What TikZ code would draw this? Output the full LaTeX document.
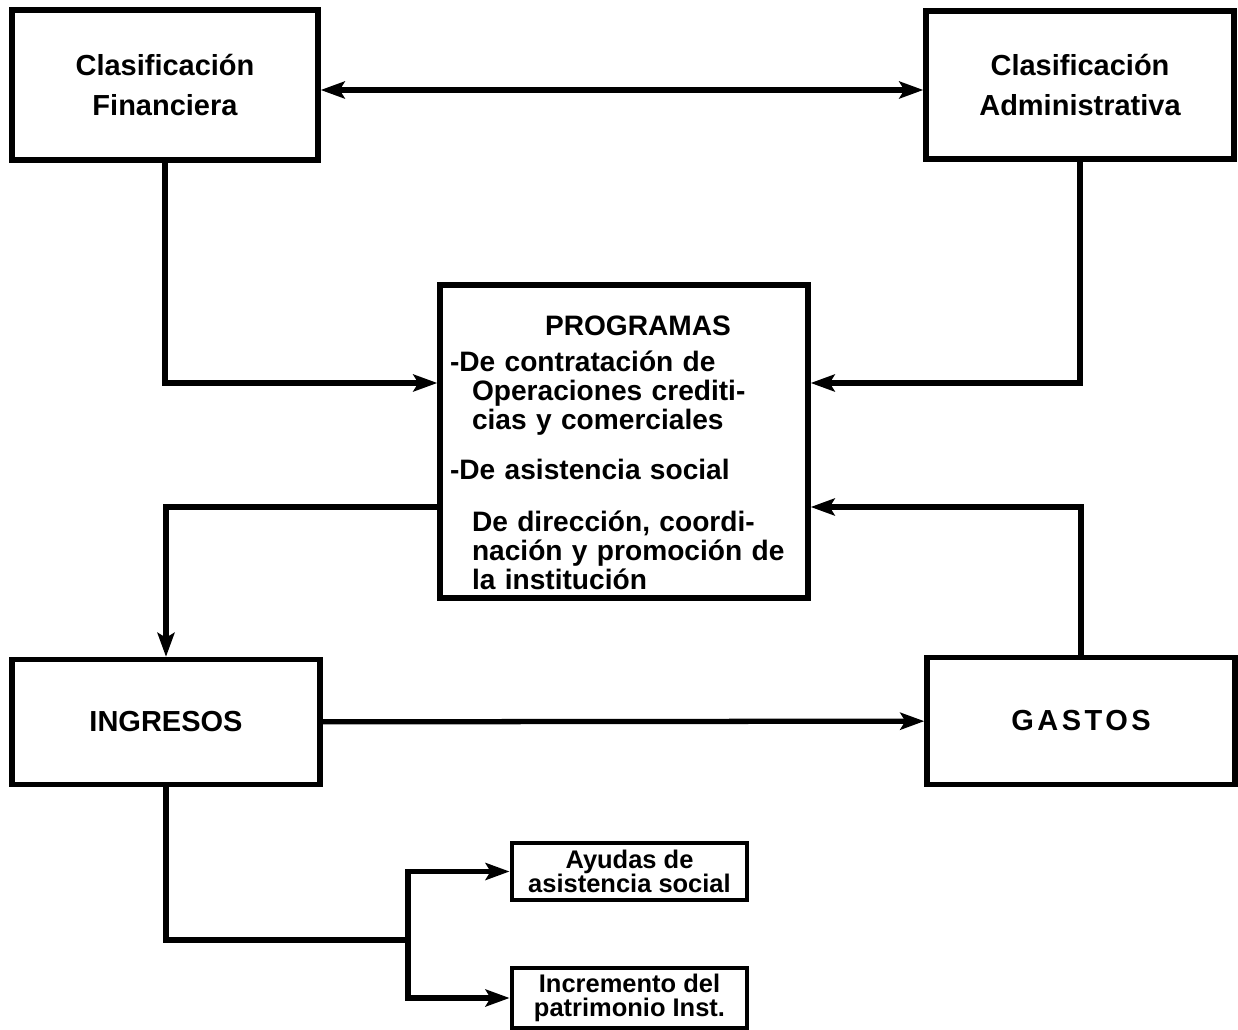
\documentclass[tikz,border=0pt]{standalone}
\usepackage{fontspec}
\setmainfont{Liberation Sans}
\usetikzlibrary{arrows.meta}
\newcommand\mytight{\setlength{\lineskiplimit}{-20pt}}
\begin{document}
\begin{tikzpicture}[x=0.02cm,y=-0.02cm,
  >={Stealth[length=4.8mm,width=3.4mm,inset=1mm]},
  bx/.style={draw, line width=3.1pt, inner sep=0pt, align=center,
    font=\bfseries\fontsize{16.5}{23}\selectfont},
  progbox/.style={draw, line width=3.1pt, inner xsep=0.2cm, inner ysep=0pt,
    align=left, text width=6.96cm, minimum height=6.26cm,
    font=\bfseries\fontsize{16}{16.5}\selectfont\mytight},
  sbx/.style={draw, line width=2.8pt, inner sep=0pt, align=center,
    minimum width=4.7cm,
    font=\bfseries\fontsize{14.5}{13.5}\selectfont\mytight},
  conn/.style={line width=3pt, line join=miter}]
\useasboundingbox (0,0) rectangle (1238,1030);

\node[bx, minimum width=6.12cm, minimum height=3.0cm] (cf) at (165,85) {Clasificación\\Financiera};
\node[bx, minimum width=6.16cm, minimum height=2.96cm] (ca) at (1080,85) {Clasificación\\Administrativa};
\node[progbox] (prog) at (624,441.5) {\rule{0pt}{0.83cm}\hspace*{1.9cm}PROGRAMAS\\[4pt]
-De contratación de\\
\hspace*{0.44cm}Operaciones crediti-\\
\hspace*{0.44cm}cias y comerciales\\[12pt]
-De asistencia social\\[13pt]
\hspace*{0.44cm}De dirección, coordi-\\
\hspace*{0.44cm}nación y promoción de\\
\hspace*{0.44cm}la institución};
\node[bx, minimum width=6.16cm, minimum height=2.5cm] (ing) at (166,722) {INGRESOS};
\node[bx, minimum width=6.16cm, minimum height=2.54cm] (gas) at (1081,721) {\addfontfeature{LetterSpace=12}GASTOS};
\node[sbx, minimum height=1.14cm] (ay) at (629.5,871.5) {Ayudas de\\asistencia social};
\node[sbx, minimum height=1.2cm] (inc) at (629.5,998) {Incremento del\\patrimonio Inst.};

\coordinate (yc) at (0,90);
\coordinate (ya) at (0,383);
\coordinate (yb) at (0,507);
\coordinate (j) at (408,940);

\draw[conn,<->] (cf.east |- yc) -- (ca.west |- yc);
\draw[conn,->] (cf.south) |- (prog.west |- ya);
\draw[conn,->] (ca.south) |- (prog.east |- ya);
\draw[conn,->] (prog.west |- yb) -| (ing.north);
\draw[conn,->] (gas.north) |- (prog.east |- yb);
\draw[conn,->] (ing) -- (gas);
\draw[conn] (ing.south) |- (j);
\draw[conn,->] (j) |- (ay.west);
\draw[conn,->] (j) |- (inc.west);
\end{tikzpicture}
\end{document}
